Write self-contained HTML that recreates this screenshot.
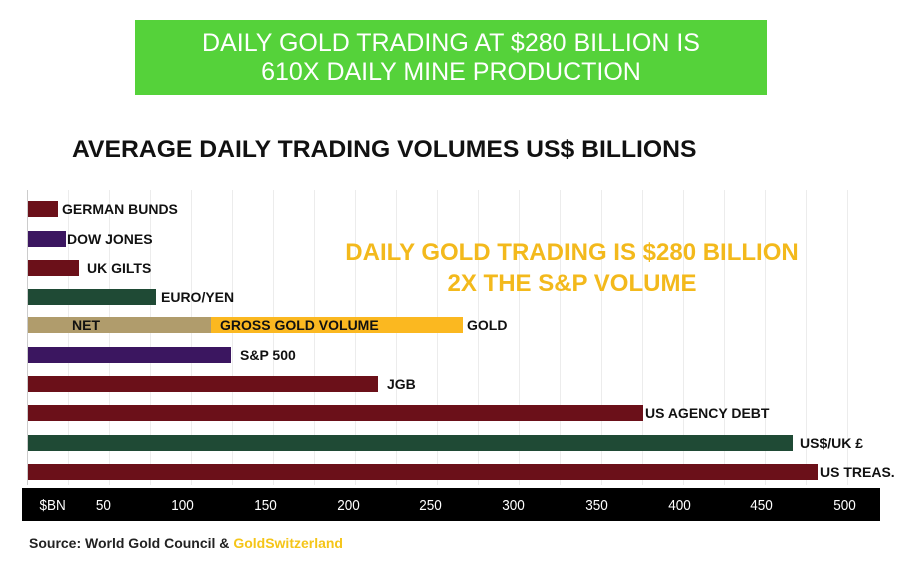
<!DOCTYPE html>
<html><head><style>
body{margin:0;width:921px;height:569px;background:#fff;position:relative;overflow:hidden;font-family:"Liberation Sans",Arial,sans-serif}
div{position:absolute;box-sizing:border-box}
.b{height:16px;left:28px}
.l{font-weight:bold;font-size:14px;color:#111;white-space:nowrap;line-height:16px}
.g{top:190px;height:295px;width:1px;background:#ececec}
.t{color:#fff;font-size:15px;top:497px;transform:scaleX(0.9)}
</style></head><body>
<div style="left:135px;top:20px;width:632px;height:75px;background:#55d23a;color:#fff;font-size:25px;text-align:center;line-height:29px;padding-top:9px">DAILY GOLD TRADING AT $280 BILLION IS<br>610X DAILY MINE PRODUCTION</div>
<div style="left:72px;top:136px;font-size:24px;font-weight:bold;color:#111;white-space:nowrap;transform:scaleX(1.03);transform-origin:left">AVERAGE DAILY TRADING VOLUMES US$ BILLIONS</div>
<div style="left:27px;top:190px;width:1px;height:295px;background:#ccc"></div>
<div class="g" style="left:68px"></div><div class="g" style="left:109px"></div><div class="g" style="left:150px"></div><div class="g" style="left:191px"></div><div class="g" style="left:232px"></div><div class="g" style="left:273px"></div><div class="g" style="left:314px"></div><div class="g" style="left:355px"></div><div class="g" style="left:396px"></div><div class="g" style="left:437px"></div><div class="g" style="left:478px"></div><div class="g" style="left:519px"></div><div class="g" style="left:560px"></div><div class="g" style="left:601px"></div><div class="g" style="left:642px"></div><div class="g" style="left:683px"></div><div class="g" style="left:724px"></div><div class="g" style="left:765px"></div><div class="g" style="left:806px"></div><div class="g" style="left:847px"></div>
<div style="left:322px;top:237px;width:500px;text-align:center;color:#f3b91c;font-size:24px;font-weight:bold;line-height:31px">DAILY GOLD TRADING IS $280 BILLION<br>2X THE S&amp;P VOLUME</div>
<div class="b" style="top:201px;width:30px;background:#6b1019"></div><div class="l" style="left:62px;top:201px">GERMAN BUNDS</div>
<div class="b" style="top:231px;width:38px;background:#3b1660"></div><div class="l" style="left:67px;top:231px">DOW JONES</div>
<div class="b" style="top:260px;width:51px;background:#6b1019"></div><div class="l" style="left:87px;top:260px">UK GILTS</div>
<div class="b" style="top:289px;width:128px;background:#1f4a35"></div><div class="l" style="left:161px;top:289px">EURO/YEN</div>
<div class="b" style="top:317px;width:183px;background:#b09c6c"></div><div class="l" style="left:72px;top:317px">NET</div>
<div class="b" style="top:317px;left:211px;width:252px;background:#fbb820"></div><div class="l" style="left:220px;top:317px">GROSS GOLD VOLUME</div><div class="l" style="left:467px;top:317px">GOLD</div>
<div class="b" style="top:347px;width:203px;background:#3b1660"></div><div class="l" style="left:240px;top:347px">S&amp;P 500</div>
<div class="b" style="top:376px;width:350px;background:#6b1019"></div><div class="l" style="left:387px;top:376px">JGB</div>
<div class="b" style="top:405px;width:615px;background:#6b1019"></div><div class="l" style="left:645px;top:405px">US AGENCY DEBT</div>
<div class="b" style="top:435px;width:765px;background:#1f4a35"></div><div class="l" style="left:800px;top:435px">US$/UK £</div>
<div class="b" style="top:464px;width:790px;background:#6b1019"></div><div class="l" style="left:820px;top:464px">US TREAS.</div>
<div style="left:22px;top:488px;width:858px;height:33px;background:#000"></div>
<div class="t" style="left:38px">$BN</div><div class="t" style="left:95px">50</div><div class="t" style="left:170px">100</div><div class="t" style="left:253px">150</div><div class="t" style="left:336px">200</div><div class="t" style="left:418px">250</div><div class="t" style="left:501px">300</div><div class="t" style="left:584px">350</div><div class="t" style="left:667px">400</div><div class="t" style="left:749px">450</div><div class="t" style="left:832px">500</div>
<div style="left:29px;top:535px;font-size:14px;font-weight:bold;color:#222;white-space:nowrap">Source: World Gold Council &amp; <span style="color:#f5c518">GoldSwitzerland</span></div>
</body></html>
